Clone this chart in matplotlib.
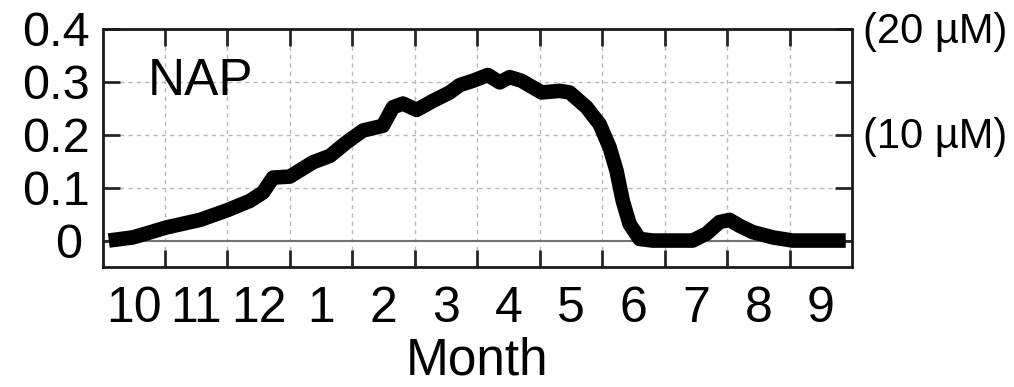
import matplotlib
matplotlib.use("Agg")
import matplotlib.pyplot as plt
import matplotlib.transforms as mtransforms

plt.rcParams["font.family"] = ["Liberation Sans", "DejaVu Sans"]

# NAP curve, x in months counted from the start of October
months = [0.10, 0.49, 1.03, 1.56, 1.99, 2.36, 2.57, 2.73, 3.00, 3.37, 3.64, 3.91,
          4.17, 4.49, 4.65, 4.81, 5.03, 5.29, 5.56, 5.72, 5.93, 6.17, 6.36, 6.52,
          6.71, 7.03, 7.32, 7.48, 7.75, 7.96, 8.12, 8.23, 8.33, 8.44, 8.60, 8.81,
          9.45, 9.67, 9.88, 10.04, 10.20, 10.41, 10.73, 11.05, 11.90]
nap = [0.000, 0.006, 0.025, 0.039, 0.057, 0.075, 0.091, 0.119, 0.121, 0.148, 0.160, 0.186,
       0.208, 0.217, 0.252, 0.259, 0.247, 0.264, 0.280, 0.294, 0.302, 0.313, 0.299, 0.309,
       0.302, 0.280, 0.283, 0.280, 0.252, 0.220, 0.176, 0.132, 0.075, 0.031, 0.003, 0.000,
       0.000, 0.013, 0.035, 0.039, 0.028, 0.016, 0.006, 0.000, 0.000]

month_labels = ["10", "11", "12", "1", "2", "3", "4", "5", "6", "7", "8", "9"]
y_ticks = [0, 0.1, 0.2, 0.3, 0.4]
y_ticklabels = ["0", "0.1", "0.2", "0.3", "0.4"]
right_vals = [0.4, 0.2]
right_labels = ["(20 µM)", "(10 µM)"]

fig = plt.figure(figsize=(10.14, 3.87), dpi=100)
ax = fig.add_axes([0.1011, 0.3101, 0.7391, 0.615])

# grid + zero line
for m in range(1, 12):
    ax.axvline(m, color="0.72", lw=1.0, ls=(0, (3, 3)), zorder=1)
for v in [0.1, 0.2, 0.3]:
    ax.axhline(v, color="0.72", lw=1.0, ls=(0, (3, 3)), zorder=1)
ax.axhline(0, color="0.45", lw=1.5, zorder=1)

ax.plot(months, nap, color="black", lw=10.5, solid_capstyle="butt",
        solid_joinstyle="round", zorder=3)

ax.set_xlim(0, 12)
ax.set_ylim(-0.05, 0.4)

ax.set_xticks(range(1, 12))
ax.set_xticklabels([])
ax.set_xticks([i + 0.5 for i in range(12)], minor=True)
ax.set_xticklabels(month_labels, minor=True)
ax.tick_params(axis="x", which="major", direction="in", length=12, width=2,
               color="0.15", top=True, bottom=True)
ax.tick_params(axis="x", which="minor", length=0, labelsize=36, pad=14)

ax.set_yticks(y_ticks)
ax.set_yticklabels(y_ticklabels)
ax.tick_params(axis="y", direction="in", length=12, width=2, color="0.15",
               left=True, right=True, labelsize=35, pad=9)
# the "0" label sits a little further left in the original
lab0 = ax.get_yticklabels()[0]
lab0.set_transform(lab0.get_transform() +
                   mtransforms.ScaledTranslation(-0.08, 0, fig.dpi_scale_trans))

for s in ax.spines.values():
    s.set_linewidth(2)
    s.set_color("0.1")

ax.set_xlabel("Month", fontsize=37, labelpad=3)
ax.text(0.73, 0.3, "NAP", fontsize=37, va="center", ha="left")

trans = mtransforms.blended_transform_factory(ax.transAxes, ax.transData)
for v, t in zip(right_vals, right_labels):
    ax.text(1.015, v - 0.005, t, transform=trans, fontsize=30, ha="left", va="center")

fig.savefig("out.png", dpi=100)
